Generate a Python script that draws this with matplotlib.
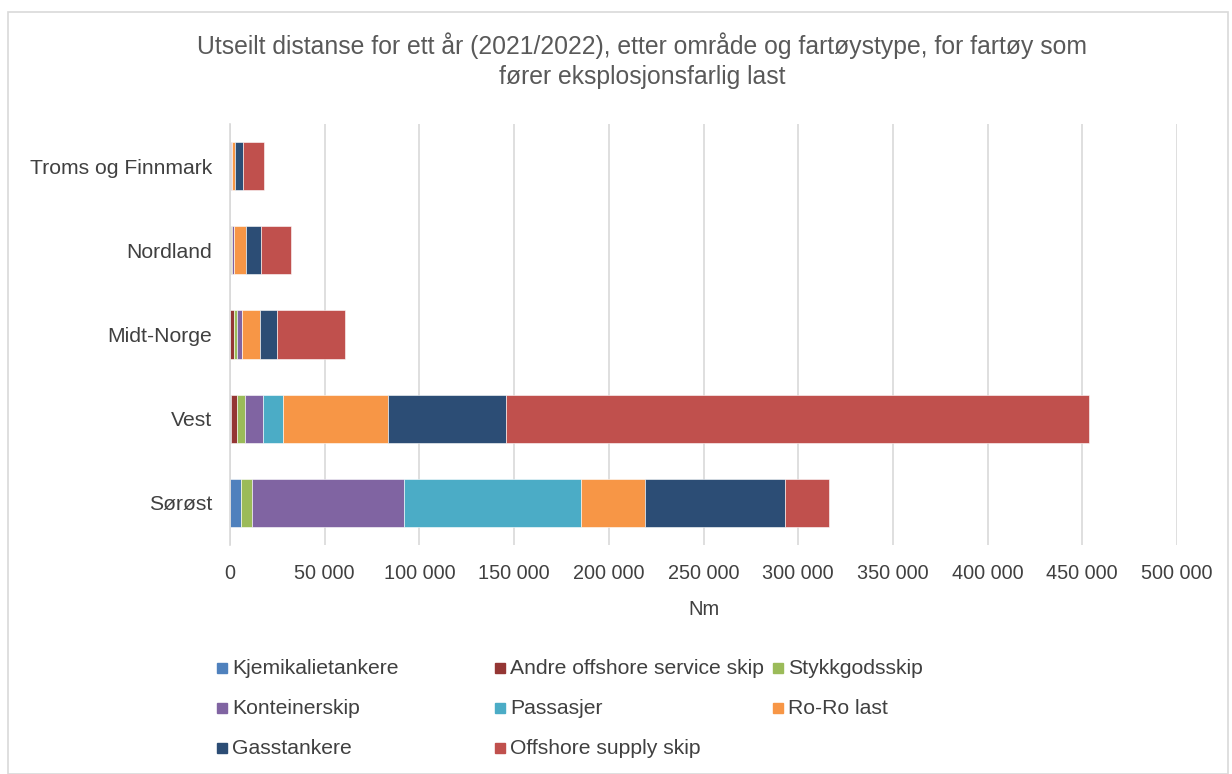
import matplotlib.pyplot as plt
from matplotlib.patches import Rectangle
from matplotlib.ticker import FuncFormatter

plt.rcParams['font.family'] = ['Liberation Sans', 'DejaVu Sans']

# Områder (nederst til øverst)
regions = ['Sørøst', 'Vest', 'Midt-Norge', 'Nordland', 'Troms og Finnmark']

# Utseilt distanse (Nm) per fartøystype, samme rekkefølge som regions
kjemikalietankere = [5800, 500, 0, 0, 0]
andre_offshore = [0, 3200, 2100, 300, 300]
stykkgodsskip = [5600, 4000, 1600, 800, 300]
konteinerskip = [80400, 9800, 2600, 1200, 500]
passasjer = [93500, 10600, 0, 0, 0]
ro_ro_last = [33800, 55400, 9700, 6300, 1500]
gasstankere = [73900, 62000, 8800, 7900, 4200]
offshore_supply = [23200, 308000, 36100, 15700, 11000]

series_names = ['Kjemikalietankere', 'Andre offshore service skip', 'Stykkgodsskip',
                'Konteinerskip', 'Passasjer', 'Ro-Ro last',
                'Gasstankere', 'Offshore supply skip']
series_values = [kjemikalietankere, andre_offshore, stykkgodsskip, konteinerskip,
                 passasjer, ro_ro_last, gasstankere, offshore_supply]
colors = ['#4F81BD', '#943634', '#9BBB59', '#8064A2',
          '#4BACC6', '#F79646', '#2C4D75', '#C0504D']

W, H = 1232, 774
fig = plt.figure(figsize=(W / 100, H / 100), dpi=100)

# chart border
fig.patches.append(Rectangle((8 / W, 0), (W - 12) / W, (H - 12) / H, transform=fig.transFigure,
                             fill=False, edgecolor='#D9D9D9', linewidth=1.2))

ax = fig.add_axes([230 / W, 1 - 545 / H, (1177 - 230) / W, (545 - 124) / H])

left = [0] * len(regions)
for name, vals, c in zip(series_names, series_values, colors):
    ax.barh(regions, vals, left=left, height=0.571, color=c, edgecolor='white',
            linewidth=0.4, label=name)
    left = [l + v for l, v in zip(left, vals)]

ax.set_xlim(0, 500000)
ax.set_ylim(-0.5, len(regions) - 0.5)
ax.set_xticks(range(0, 500001, 50000))
ax.xaxis.set_major_formatter(FuncFormatter(lambda v, p: f'{int(v):,}'.replace(',', ' ')))
ax.grid(axis='x', color='#D9D9D9', linewidth=1.2)
ax.set_axisbelow(True)
for s in ['top', 'right', 'bottom']:
    ax.spines[s].set_visible(False)
ax.spines['left'].set_color('#D9D9D9')
ax.spines['left'].set_linewidth(1.2)
ax.tick_params(length=0, labelcolor='#404040')
ax.tick_params(axis='x', labelsize=14.3, pad=14)
ax.tick_params(axis='y', labelsize=15.2, pad=13)
ax.set_xlabel('Nm', fontsize=14.5, color='#404040', labelpad=12)

fig.text(0.5 * (197 + 1087) / W, 1 - 61 / H,
         'Utseilt distanse for ett år (2021/2022), etter område og fartøystype, for fartøy som\n'
         'fører eksplosjonsfarlig last',
         ha='center', va='center', fontsize=17.8, color='#595959', linespacing=1.3)

# legend, 3 columns filled row by row
for i, (name, c) in enumerate(zip(series_names, colors)):
    col, row = i % 3, i // 3
    x = 217 + col * 278
    y = 668 + row * 40
    fig.patches.append(Rectangle((x / W, 1 - (y + 5) / H), 10 / W, 10 / H,
                                 transform=fig.transFigure, color=c))
    fig.text((x + 15) / W, 1 - (y + 1) / H, name, ha='left', va='center',
             fontsize=15.2, color='#404040')

fig.savefig('out.png', dpi=100)
